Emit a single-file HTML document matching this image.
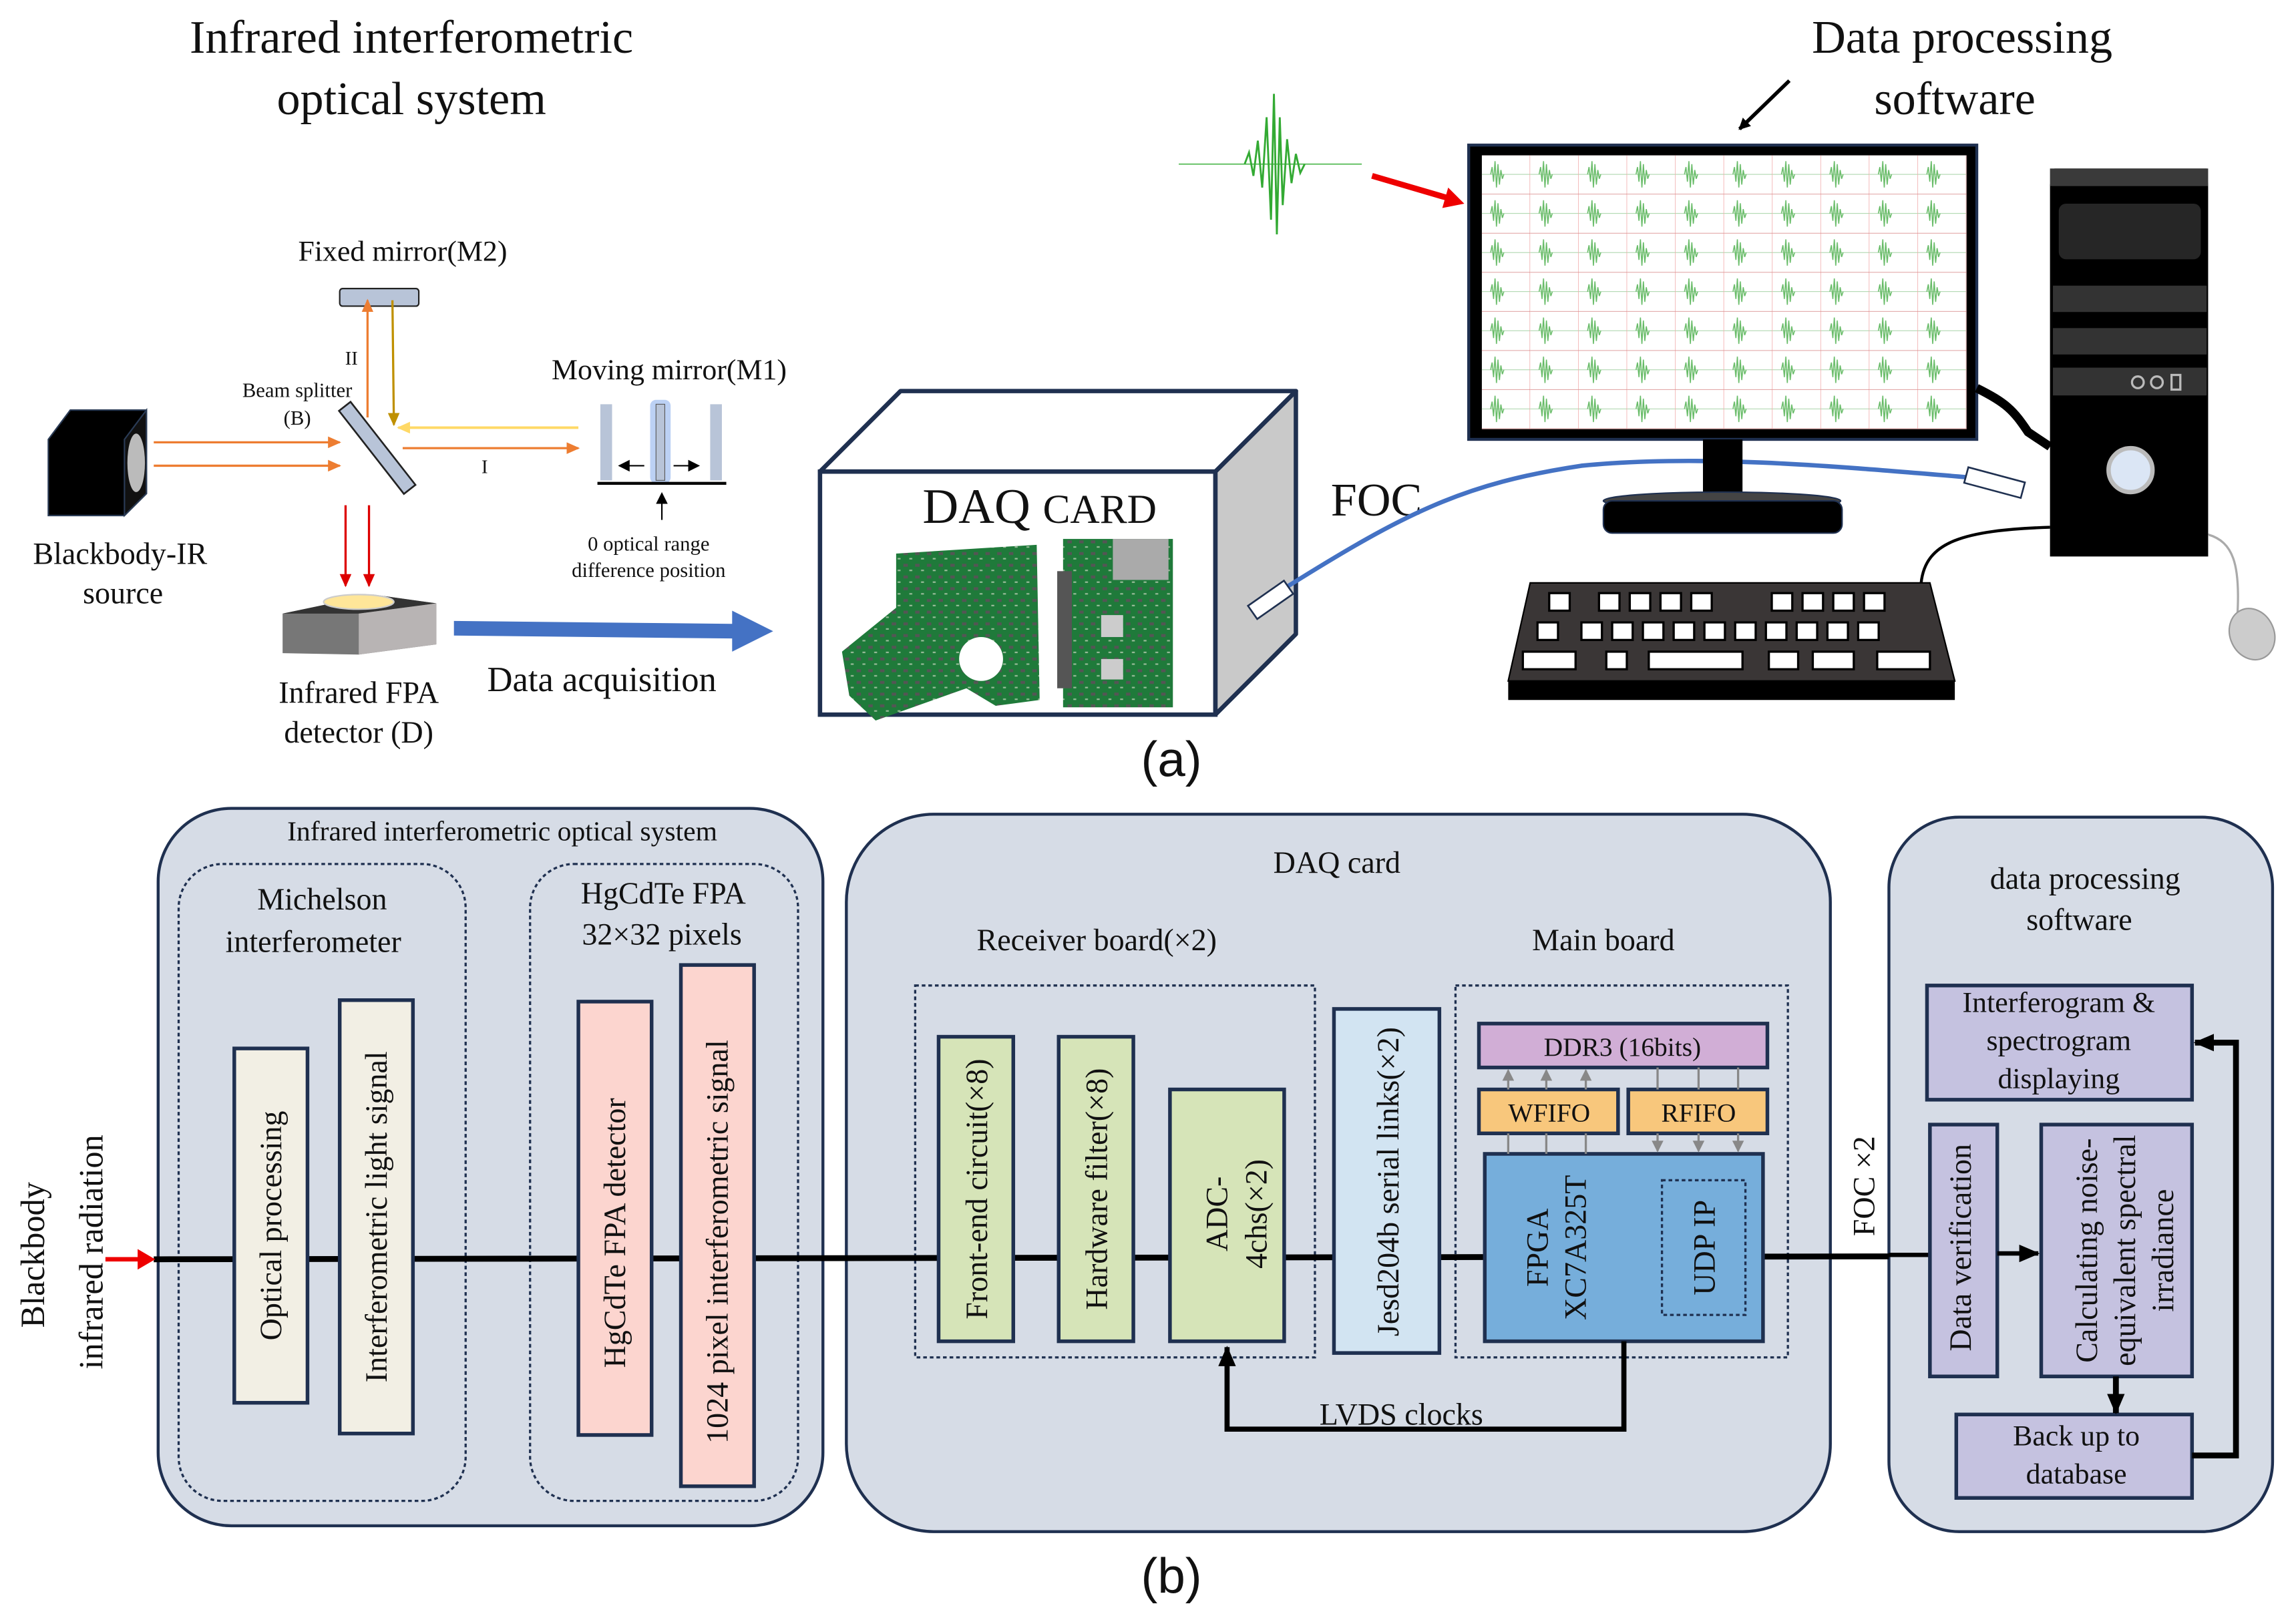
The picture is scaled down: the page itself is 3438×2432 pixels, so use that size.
<!DOCTYPE html>
<html><head><meta charset="utf-8"><style>
html,body{margin:0;padding:0;background:#fff}
svg{display:block}
text{font-family:"Liberation Serif",serif;fill:#111}
</style></head><body>
<svg width="3438" height="2432" viewBox="0 0 1568 1109" xmlns="http://www.w3.org/2000/svg">
<defs>
<marker id="ab" markerWidth="8" markerHeight="8" refX="7" refY="4" orient="auto" markerUnits="userSpaceOnUse"><path d="M0,0 L8,4 L0,8z" fill="#000"/></marker>
<marker id="abL" markerWidth="14" markerHeight="12" refX="13" refY="6" orient="auto" markerUnits="userSpaceOnUse"><path d="M0,0 L14,6 L0,12z" fill="#000"/></marker>
<marker id="ag" markerWidth="8" markerHeight="8" refX="7" refY="4" orient="auto" markerUnits="userSpaceOnUse"><path d="M0,0 L8,4 L0,8z" fill="#888"/></marker>
<marker id="ao" markerWidth="9" markerHeight="8" refX="8" refY="4" orient="auto" markerUnits="userSpaceOnUse"><path d="M0,0 L9,4 L0,8z" fill="#ed7d31"/></marker>
<marker id="ay" markerWidth="9" markerHeight="8" refX="8" refY="4" orient="auto" markerUnits="userSpaceOnUse"><path d="M0,0 L9,4 L0,8z" fill="#ffd966"/></marker>
<marker id="ad" markerWidth="9" markerHeight="8" refX="8" refY="4" orient="auto" markerUnits="userSpaceOnUse"><path d="M0,0 L9,4 L0,8z" fill="#bf9000"/></marker>
<marker id="ar" markerWidth="9" markerHeight="8" refX="8" refY="4" orient="auto" markerUnits="userSpaceOnUse"><path d="M0,0 L9,4 L0,8z" fill="#d00"/></marker>
<pattern id="wave" x="1012" y="106" width="33.1" height="26.7" patternUnits="userSpaceOnUse">
<line x1="0" y1="13" x2="33" y2="13" stroke="#9c9" stroke-width="0.4"/>
<path d="M6,13 L7,8 L8,18 L9,4 L10,22 L11,6 L12,20 L13,10 L14,16 L15,13" stroke="#6b6" stroke-width="0.7" fill="none"/>
<line x1="32.8" y1="0" x2="32.8" y2="26.7" stroke="#e99" stroke-width="0.3"/>
<line x1="0" y1="26.5" x2="33" y2="26.5" stroke="#c66" stroke-width="0.3"/>
</pattern>
<pattern id="pcb" width="8" height="8" patternUnits="userSpaceOnUse">
<rect width="8" height="8" fill="#1f7a3a"/><rect x="1" y="1" width="3" height="2" fill="#555"/><rect x="5" y="5" width="2" height="1" fill="#9b9"/>
</pattern>
</defs>

<!-- ===== (a) ===== -->
<text x="281" y="36" font-size="32" text-anchor="middle">Infrared interferometric</text>
<text x="281" y="78" font-size="32" text-anchor="middle">optical system</text>
<text x="1340" y="36" font-size="32" text-anchor="middle">Data processing</text>
<text x="1335" y="78" font-size="32" text-anchor="middle">software</text>
<line x1="1222" y1="55" x2="1188" y2="88" stroke="#000" stroke-width="2.5" marker-end="url(#ab)"/>

<!-- blackbody -->
<path d="M33,300 L48,280 L100,280 L100,337 L85,352 L33,352z" fill="#000" stroke="#2a3b55" stroke-width="1"/>
<path d="M85,300 L100,280 L100,337 L85,352z" fill="#111" stroke="#2a3b55"/>
<ellipse cx="93" cy="316" rx="6" ry="20" fill="#bbb"/>
<text x="82" y="385" font-size="21" text-anchor="middle">Blackbody-IR</text>
<text x="84" y="412" font-size="21" text-anchor="middle">source</text>
<line x1="105" y1="302" x2="232" y2="302" stroke="#ed7d31" stroke-width="1.5" marker-end="url(#ao)"/>
<line x1="105" y1="318" x2="232" y2="318" stroke="#ed7d31" stroke-width="1.5" marker-end="url(#ao)"/>
<g transform="rotate(52 257 305)"><rect x="222" y="300" width="72" height="10" fill="#b8c4d8" stroke="#222" stroke-width="1.2"/></g>
<text x="203" y="271" font-size="14" text-anchor="middle">Beam splitter</text>
<text x="203" y="290" font-size="14" text-anchor="middle">(B)</text>
<text x="240" y="249" font-size="13" text-anchor="middle">II</text>
<rect x="232" y="197" width="54" height="12" rx="2" fill="#b8c4d8" stroke="#222"/>
<text x="275" y="178" font-size="20" text-anchor="middle">Fixed mirror(M2)</text>
<line x1="251" y1="285" x2="251" y2="205" stroke="#ed7d31" stroke-width="1.5" marker-end="url(#ao)"/>
<line x1="268" y1="205" x2="269" y2="290" stroke="#bf9000" stroke-width="1.5" marker-end="url(#ad)"/>
<line x1="395" y1="292" x2="272" y2="292" stroke="#ffd966" stroke-width="1.8" marker-end="url(#ay)"/>
<line x1="275" y1="306" x2="395" y2="306" stroke="#ed7d31" stroke-width="1.5" marker-end="url(#ao)"/>
<text x="331" y="323" font-size="13" text-anchor="middle">I</text>
<text x="457" y="259" font-size="20" text-anchor="middle">Moving mirror(M1)</text>
<rect x="410" y="276" width="8" height="52" fill="#b8c4d8"/>
<rect x="444" y="273" width="14" height="57" rx="4" fill="#9fbef0" opacity="0.7"/>
<rect x="448" y="276" width="6" height="52" fill="#b8c4d8" stroke="#555" stroke-width="0.5"/>
<rect x="485" y="276" width="8" height="52" fill="#b8c4d8"/>
<line x1="440" y1="318" x2="423" y2="318" stroke="#000" marker-end="url(#ab)"/>
<line x1="460" y1="318" x2="477" y2="318" stroke="#000" marker-end="url(#ab)"/>
<line x1="408" y1="330" x2="496" y2="330" stroke="#000" stroke-width="2"/>
<line x1="452" y1="355" x2="452" y2="337" stroke="#000" marker-end="url(#ab)"/>
<text x="443" y="376" font-size="14" text-anchor="middle">0 optical range</text>
<text x="443" y="394" font-size="14" text-anchor="middle">difference position</text>
<line x1="236" y1="345" x2="236" y2="400" stroke="#d00" stroke-width="1.5" marker-end="url(#ar)"/>
<line x1="252" y1="345" x2="252" y2="400" stroke="#d00" stroke-width="1.5" marker-end="url(#ar)"/>
<path d="M193,419 L255,406 L298,412 L298,440 L245,447 L193,446z" fill="#777"/>
<path d="M193,419 L255,406 L298,412 L245,419z" fill="#333"/>
<path d="M245,419 L298,412 L298,440 L245,447z" fill="#b8b4b4"/>
<ellipse cx="245" cy="411" rx="24" ry="5" fill="#ffe699" stroke="#ccc"/>
<text x="245" y="480" font-size="21" text-anchor="middle">Infrared FPA</text>
<text x="245" y="507" font-size="21" text-anchor="middle">detector (D)</text>
<path d="M310,424 L500,426 L500,417 L528,431 L500,445 L500,436 L310,434z" fill="#4472c4"/>
<text x="411" y="472" font-size="24" text-anchor="middle">Data acquisition</text>

<!-- DAQ box -->
<path d="M830,322 L885,267 L885,433 L830,488z" fill="#c9c9c9" stroke="#1f3050" stroke-width="3" stroke-linejoin="round"/>
<path d="M560,322 L615,267 L885,267 L830,322z" fill="#fff" stroke="#1f3050" stroke-width="3" stroke-linejoin="round"/>
<rect x="560" y="322" width="270" height="166" fill="#fff" stroke="#1f3050" stroke-width="3"/>
<text x="630" y="357" font-size="34">DAQ <tspan font-size="28">CARD</tspan></text>
<path d="M612,378 L708,372 L710,478 L680,482 L660,470 L598,492 L580,475 L575,445 L612,415z" fill="url(#pcb)"/>
<circle cx="670" cy="450" r="15" fill="#fff"/>
<rect x="726" y="368" width="75" height="115" fill="url(#pcb)"/>
<rect x="760" y="368" width="38" height="28" fill="#aaa"/>
<rect x="722" y="390" width="10" height="80" fill="#555"/>
<rect x="752" y="420" width="15" height="15" fill="#ccc"/>
<rect x="752" y="450" width="15" height="14" fill="#ccc"/>
<!-- FOC cable -->
<text x="940" y="352" font-size="32" text-anchor="middle">FOC</text>
<path d="M880,400 C960,350 1000,330 1080,318 C1160,310 1250,318 1345,326" stroke="#4472c4" stroke-width="3" fill="none"/>
<g transform="rotate(-35 868 410)"><rect x="853" y="404" width="30" height="11" fill="#fff" stroke="#1f3050" stroke-width="1.2"/></g>
<g transform="rotate(15 1362 330)"><rect x="1342" y="324" width="40" height="11" fill="#fff" stroke="#1f3050" stroke-width="1.2"/></g>

<line x1="805" y1="112" x2="930" y2="112" stroke="#5b5" stroke-width="0.8"/>
<path d="M850,112 L853,104 L856,120 L859,96 L862,128 L865,80 L868,150 L870,64 L872,160 L874,80 L876,140 L879,95 L882,125 L885,105 L888,118 L891,112" stroke="#3a3" stroke-width="1.3" fill="none"/>
<line x1="937" y1="120" x2="995" y2="137" stroke="#e00" stroke-width="4"/>
<path d="M1000,139 L985,142 L989,128z" fill="#e00"/>

<!-- monitor -->
<rect x="1003" y="99" width="347" height="201" fill="#000" stroke="#1f3050" stroke-width="2"/>
<rect x="1012" y="106" width="331" height="187" fill="#fff"/>
<rect x="1012" y="106" width="331" height="187" fill="url(#wave)"/>
<path d="M1350,265 C1370,275 1375,280 1385,295 L1400,305" stroke="#000" stroke-width="6" fill="none"/>
<rect x="1163" y="300" width="27" height="42" fill="#000"/>
<ellipse cx="1176" cy="342" rx="81" ry="6" fill="#444" stroke="#1f3050"/>
<rect x="1095" y="342" width="163" height="22" rx="6" fill="#000" stroke="#1f3050"/>
<!-- tower -->
<path d="M1400,126 L1403,115 L1507,115 L1508,126 L1508,380 L1400,380z" fill="#000"/>
<rect x="1400" y="115" width="108" height="12" fill="#3a3a3a"/>
<rect x="1406" y="139" width="97" height="38" rx="5" fill="#262626"/>
<rect x="1402" y="195" width="105" height="18" fill="#333"/>
<rect x="1402" y="224" width="105" height="18" fill="#333"/>
<rect x="1402" y="251" width="105" height="19" fill="#333"/>
<circle cx="1460" cy="261" r="4" fill="none" stroke="#bbb" stroke-width="1.5"/>
<circle cx="1473" cy="261" r="4" fill="none" stroke="#bbb" stroke-width="1.5"/>
<rect x="1483" y="256" width="6" height="10" fill="none" stroke="#bbb" stroke-width="1.5"/>
<circle cx="1455" cy="321" r="15" fill="#dbe6f5" stroke="#bbb" stroke-width="3"/>
<path d="M1508,365 C1525,370 1530,385 1528,420" stroke="#aaa" stroke-width="1.5" fill="none"/>
<ellipse cx="1538" cy="433" rx="15" ry="18" fill="#ccc" stroke="#999" transform="rotate(-25 1538 433)"/>
<path d="M1400,360 C1340,362 1315,370 1312,398" stroke="#000" stroke-width="2" fill="none"/>
<path d="M1045,398 L1318,398 L1335,465 L1030,465z" fill="#3a3636" stroke="#000"/>
<rect x="1030" y="465" width="305" height="13" fill="#000"/>
<g fill="#fff" stroke="#000" stroke-width="1.5">
<rect x="1058" y="405" width="14" height="12"/><rect x="1092" y="405" width="14" height="12"/><rect x="1113" y="405" width="14" height="12"/><rect x="1134" y="405" width="14" height="12"/><rect x="1155" y="405" width="14" height="12"/>
<rect x="1210" y="405" width="14" height="12"/><rect x="1231" y="405" width="14" height="12"/><rect x="1252" y="405" width="14" height="12"/><rect x="1273" y="405" width="14" height="12"/>
<rect x="1050" y="425" width="14" height="12"/><rect x="1080" y="425" width="14" height="12"/><rect x="1101" y="425" width="14" height="12"/><rect x="1122" y="425" width="14" height="12"/><rect x="1143" y="425" width="14" height="12"/><rect x="1164" y="425" width="14" height="12"/><rect x="1185" y="425" width="14" height="12"/><rect x="1206" y="425" width="14" height="12"/><rect x="1227" y="425" width="14" height="12"/><rect x="1248" y="425" width="14" height="12"/><rect x="1269" y="425" width="14" height="12"/>
<rect x="1040" y="445" width="36" height="12"/><rect x="1097" y="445" width="14" height="12"/><rect x="1126" y="445" width="64" height="12"/><rect x="1208" y="445" width="20" height="12"/><rect x="1238" y="445" width="28" height="12"/><rect x="1282" y="445" width="36" height="12"/>
</g>
<text x="800" y="530" font-size="34" text-anchor="middle" style="font-family:'Liberation Sans',sans-serif">(a)</text>

<!-- ===== (b) ===== -->
<g stroke="#1f3050" stroke-width="2" fill="#d6dce6">
<rect x="108" y="552" width="454" height="490" rx="50"/>
<rect x="578" y="556" width="672" height="490" rx="60"/>
<rect x="1290" y="558" width="262" height="488" rx="48"/>
</g>
<g fill="none" stroke="#1f3050" stroke-width="1.5" stroke-dasharray="2.5,2">
<rect x="122" y="590" width="196" height="435" rx="30"/>
<rect x="362" y="590" width="183" height="435" rx="30"/>
<rect x="625" y="673" width="273" height="254"/>
<rect x="994" y="673" width="227" height="254"/>
</g>
<text x="343" y="574" font-size="19" text-anchor="middle">Infrared interferometric optical system</text>
<text x="220" y="621" font-size="21" text-anchor="middle">Michelson</text>
<text x="214" y="650" font-size="21" text-anchor="middle">interferometer</text>
<text x="453" y="617" font-size="21" text-anchor="middle">HgCdTe FPA</text>
<text x="452" y="645" font-size="21" text-anchor="middle">32×32 pixels</text>
<text x="913" y="596" font-size="21" text-anchor="middle">DAQ card</text>
<text x="749" y="649" font-size="21" text-anchor="middle">Receiver board(×2)</text>
<text x="1095" y="649" font-size="21" text-anchor="middle">Main board</text>
<text x="1424" y="607" font-size="21" text-anchor="middle">data processing</text>
<text x="1420" y="635" font-size="21" text-anchor="middle">software</text>

<line x1="105" y1="860" x2="1290" y2="858" stroke="#000" stroke-width="4"/>
<line x1="1290" y1="857" x2="1318" y2="857" stroke="#000" stroke-width="3"/>
<line x1="72" y1="860" x2="96" y2="860" stroke="#e00" stroke-width="3"/>
<path d="M106,860 L94,853 L94,867z" fill="#e00"/>
<text transform="translate(30 857) rotate(-90)" font-size="23" text-anchor="middle">Blackbody</text>
<text transform="translate(70 855) rotate(-90)" font-size="23" text-anchor="middle">infrared radiation</text>

<g stroke="#1f3050" stroke-width="2.5">
<rect x="160" y="716" width="50" height="242" fill="#f2efe4"/>
<rect x="232" y="683" width="50" height="296" fill="#f2efe4"/>
<rect x="395" y="684" width="50" height="296" fill="#fcd5cf"/>
<rect x="465" y="659" width="50" height="356" fill="#fcd5cf"/>
<rect x="641" y="708" width="51" height="208" fill="#d6e4b8"/>
<rect x="723" y="708" width="51" height="208" fill="#d6e4b8"/>
<rect x="799" y="744" width="78" height="172" fill="#d6e4b8"/>
<rect x="911" y="689" width="72" height="235" fill="#d2e4f2"/>
<rect x="1010" y="699" width="197" height="30" fill="#d1aed6"/>
<rect x="1010" y="744" width="95" height="30" fill="#f8c77c"/>
<rect x="1112" y="744" width="95" height="30" fill="#f8c77c"/>
<rect x="1014" y="788" width="190" height="128" fill="#76aedb"/>
<rect x="1316" y="673" width="181" height="78" fill="#c5c2e0"/>
<rect x="1318" y="768" width="46" height="172" fill="#c5c2e0"/>
<rect x="1394" y="768" width="103" height="172" fill="#c5c2e0"/>
<rect x="1336" y="966" width="161" height="57" fill="#c5c2e0"/>
</g>
<rect x="1135" y="806" width="57" height="92" fill="none" stroke="#1f3050" stroke-width="1.5" stroke-dasharray="2.5,2"/>
<g stroke="#888" stroke-width="1.5">
<line x1="1030" y1="744" x2="1030" y2="731" marker-end="url(#ag)"/><line x1="1056" y1="744" x2="1056" y2="731" marker-end="url(#ag)"/><line x1="1083" y1="744" x2="1083" y2="731" marker-end="url(#ag)"/>
<line x1="1030" y1="774" x2="1030" y2="788"/><line x1="1056" y1="774" x2="1056" y2="788"/><line x1="1083" y1="774" x2="1083" y2="788"/>
<line x1="1132" y1="729" x2="1132" y2="744"/><line x1="1160" y1="729" x2="1160" y2="744"/><line x1="1187" y1="729" x2="1187" y2="744"/>
<line x1="1132" y1="774" x2="1132" y2="786" marker-end="url(#ag)"/><line x1="1160" y1="774" x2="1160" y2="786" marker-end="url(#ag)"/><line x1="1187" y1="774" x2="1187" y2="786" marker-end="url(#ag)"/>
</g>

<g font-size="21" text-anchor="middle">
<text transform="translate(192 837) rotate(-90)">Optical processing</text>
<text transform="translate(264 831) rotate(-90)">Interferometric light signal</text>
<text transform="translate(427 842) rotate(-90)">HgCdTe FPA detector</text>
<text transform="translate(497 848) rotate(-90)">1024 pixel interferometric signal</text>
<text transform="translate(674 812) rotate(-90)">Front-end circuit(×8)</text>
<text transform="translate(756 812) rotate(-90)">Hardware filter(×8)</text>
<text transform="translate(838 829) rotate(-90)">ADC-</text>
<text transform="translate(865 829) rotate(-90)">4chs(×2)</text>
<text transform="translate(955 807) rotate(-90)">Jesd204b serial links(×2)</text>
<text transform="translate(1057 852) rotate(-90)">FPGA</text>
<text transform="translate(1083 852) rotate(-90)">XC7A325T</text>
<text transform="translate(1171 852) rotate(-90)">UDP IP</text>
<text transform="translate(1346 852) rotate(-90)">Data verification</text>
<text transform="translate(1432 854) rotate(-90)">Calculating noise-</text>
<text transform="translate(1458 854) rotate(-90)">equivalent spectral</text>
<text transform="translate(1484 854) rotate(-90)">irradiance</text>
<text transform="translate(1280 810) rotate(-90)">FOC ×2</text>
</g>
<text x="1108" y="721" font-size="18" text-anchor="middle">DDR3 (16bits)</text>
<text x="1058" y="766" font-size="18" text-anchor="middle">WFIFO</text>
<text x="1160" y="766" font-size="18" text-anchor="middle">RFIFO</text>
<text x="1406" y="691" font-size="20" text-anchor="middle">Interferogram &amp;</text>
<text x="1406" y="717" font-size="20" text-anchor="middle">spectrogram</text>
<text x="1406" y="743" font-size="20" text-anchor="middle">displaying</text>
<text x="1418" y="987" font-size="20" text-anchor="middle">Back up to</text>
<text x="1418" y="1013" font-size="20" text-anchor="middle">database</text>
<text x="957" y="973" font-size="21" text-anchor="middle">LVDS clocks</text>

<path d="M1109,916 L1109,976 L838,976 L838,920" fill="none" stroke="#000" stroke-width="3.5" marker-end="url(#abL)"/>
<line x1="1364" y1="856" x2="1392" y2="856" stroke="#000" stroke-width="3" marker-end="url(#abL)"/>
<line x1="1445" y1="940" x2="1445" y2="965" stroke="#000" stroke-width="4" marker-end="url(#abL)"/>
<path d="M1497,994 L1527,994 L1527,712 L1499,712" fill="none" stroke="#000" stroke-width="4" marker-end="url(#abL)"/>

<text x="800" y="1088" font-size="34" text-anchor="middle" style="font-family:'Liberation Sans',sans-serif">(b)</text>
</svg>
</body></html>
